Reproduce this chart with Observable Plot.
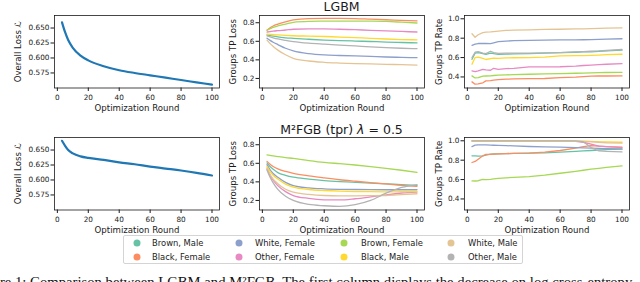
<!DOCTYPE html>
<html><head><meta charset="utf-8">
<script src="https://cdn.jsdelivr.net/npm/d3@7"></script>
<script src="https://cdn.jsdelivr.net/npm/@observablehq/plot@0.6"></script>
<style>
html,body{margin:0;padding:0;background:#fff;}
#root{position:relative;width:640px;height:282px;overflow:hidden;font-family:"DejaVu Sans",sans-serif;color:#1a1a1a;}
.title{position:absolute;font-size:12.5px;white-space:nowrap;transform:translate(-50%,-50%);}
#legend{position:absolute;left:123px;top:235px;width:400px;height:29px;border:1px solid #d4d4d4;border-radius:2px;box-sizing:border-box;background:#fff;}
.li{position:absolute;font-size:8.4px;white-space:nowrap;transform:translateY(-50%);line-height:1;}
.dot{position:absolute;width:7px;height:7px;border-radius:50%;transform:translate(-50%,-50%);}
#caption{position:absolute;left:-27px;top:275px;font-family:"Liberation Serif",serif;font-size:14.7px;line-height:1;white-space:nowrap;color:#111;}
</style></head>
<body><div id="root"></div>
<script>
// ---------- data ----------
const groups = ["Brown, Male", "Black, Female", "White, Female", "Other, Female", "Brown, Female", "Black, Male", "White, Male", "Other, Male"];
const groupColors = ["#66c2a5", "#fc8d62", "#8da0cb", "#e78ac3", "#a6d854", "#ffd92f", "#e5c494", "#b3b3b3"];

const lossRounds = [3, 5, 7, 10, 15, 20, 30, 40, 50, 60, 70, 80, 90, 100];
const rateRounds = [3, 5, 7, 10, 12, 15, 17, 20, 25, 30, 40, 50, 60, 70, 75, 80, 85, 90, 100];
const xTicks = [0, 20, 40, 60, 80, 100];

const lgbmOverallLoss  = [0.6595, 0.643, 0.630, 0.617, 0.604, 0.596, 0.5863, 0.5796, 0.575, 0.5711, 0.5672, 0.5632, 0.5593, 0.5554];
const m2fgbOverallLoss = [0.6654, 0.657, 0.650, 0.6444, 0.6394, 0.6368, 0.6335, 0.6295, 0.6262, 0.6224, 0.6191, 0.6158, 0.612, 0.6075];

// group order as in `groups`
const lgbmGroupLoss = [
  [0.670, 0.662, 0.655, 0.647, 0.638, 0.632, 0.622, 0.613, 0.607, 0.603, 0.598, 0.592, 0.587, 0.583],
  [0.720, 0.745, 0.765, 0.785, 0.810, 0.830, 0.845, 0.847, 0.847, 0.845, 0.838, 0.832, 0.826, 0.820],
  [0.634, 0.610, 0.590, 0.565, 0.525, 0.497, 0.467, 0.453, 0.447, 0.442, 0.437, 0.431, 0.427, 0.424],
  [0.700, 0.705, 0.710, 0.715, 0.722, 0.730, 0.735, 0.735, 0.730, 0.725, 0.718, 0.712, 0.706, 0.700],
  [0.720, 0.735, 0.750, 0.765, 0.785, 0.805, 0.815, 0.817, 0.818, 0.818, 0.817, 0.814, 0.806, 0.797],
  [0.677, 0.675, 0.672, 0.669, 0.664, 0.660, 0.656, 0.652, 0.646, 0.640, 0.632, 0.625, 0.619, 0.616],
  [0.612, 0.575, 0.545, 0.505, 0.455, 0.417, 0.388, 0.374, 0.366, 0.360, 0.356, 0.352, 0.348, 0.344],
  [0.659, 0.648, 0.638, 0.625, 0.610, 0.597, 0.580, 0.569, 0.559, 0.550, 0.540, 0.532, 0.525, 0.521]
];
const m2fgbGroupLoss = [
  [0.604, 0.565, 0.535, 0.500, 0.470, 0.450, 0.430, 0.414, 0.403, 0.395, 0.387, 0.379, 0.370, 0.362],
  [0.621, 0.590, 0.565, 0.540, 0.512, 0.492, 0.465, 0.443, 0.423, 0.407, 0.392, 0.379, 0.362, 0.352],
  [0.586, 0.530, 0.490, 0.450, 0.395, 0.360, 0.335, 0.325, 0.320, 0.318, 0.316, 0.315, 0.315, 0.315],
  [0.540, 0.470, 0.420, 0.360, 0.295, 0.253, 0.222, 0.207, 0.205, 0.218, 0.238, 0.260, 0.280, 0.290],
  [0.690, 0.685, 0.680, 0.673, 0.662, 0.653, 0.630, 0.610, 0.596, 0.582, 0.565, 0.546, 0.525, 0.503],
  [0.567, 0.510, 0.470, 0.430, 0.375, 0.343, 0.318, 0.307, 0.300, 0.296, 0.294, 0.293, 0.294, 0.296],
  [0.550, 0.480, 0.430, 0.380, 0.320, 0.289, 0.265, 0.253, 0.250, 0.250, 0.251, 0.253, 0.262, 0.272],
  [0.529, 0.450, 0.390, 0.320, 0.245, 0.200, 0.157, 0.143, 0.136, 0.154, 0.200, 0.278, 0.340, 0.371]
];
const lgbmGroupTPR = [
  [0.582, 0.645, 0.652, 0.640, 0.633, 0.645, 0.640, 0.633, 0.636, 0.638, 0.640, 0.645, 0.650, 0.655, 0.658, 0.660, 0.664, 0.668, 0.677],
  [0.349, 0.325, 0.328, 0.340, 0.360, 0.362, 0.368, 0.373, 0.377, 0.380, 0.383, 0.384, 0.394, 0.398, 0.403, 0.408, 0.410, 0.410, 0.411],
  [0.726, 0.738, 0.745, 0.747, 0.745, 0.743, 0.752, 0.764, 0.770, 0.774, 0.778, 0.780, 0.782, 0.783, 0.784, 0.785, 0.787, 0.790, 0.794],
  [0.462, 0.455, 0.462, 0.479, 0.472, 0.469, 0.489, 0.479, 0.485, 0.489, 0.503, 0.503, 0.505, 0.512, 0.518, 0.523, 0.527, 0.531, 0.537],
  [0.411, 0.390, 0.392, 0.408, 0.410, 0.412, 0.415, 0.418, 0.421, 0.424, 0.428, 0.432, 0.435, 0.438, 0.440, 0.442, 0.444, 0.446, 0.448],
  [0.531, 0.600, 0.605, 0.592, 0.580, 0.590, 0.595, 0.592, 0.596, 0.598, 0.600, 0.605, 0.617, 0.620, 0.621, 0.623, 0.626, 0.630, 0.634],
  [0.846, 0.810, 0.835, 0.858, 0.862, 0.865, 0.868, 0.873, 0.880, 0.883, 0.886, 0.890, 0.892, 0.895, 0.897, 0.899, 0.901, 0.903, 0.907],
  [0.600, 0.655, 0.662, 0.645, 0.640, 0.665, 0.652, 0.643, 0.645, 0.645, 0.645, 0.648, 0.652, 0.658, 0.662, 0.665, 0.668, 0.673, 0.684]
];
const m2fgbGroupTPR = [
  [0.845, 0.845, 0.842, 0.845, 0.852, 0.862, 0.864, 0.866, 0.868, 0.870, 0.872, 0.876, 0.883, 0.890, 0.895, 0.900, 0.905, 0.908, 0.914],
  [0.776, 0.787, 0.810, 0.845, 0.860, 0.860, 0.862, 0.866, 0.868, 0.870, 0.872, 0.883, 0.900, 0.925, 0.940, 0.950, 0.945, 0.940, 0.935],
  [0.940, 0.955, 0.958, 0.958, 0.957, 0.955, 0.954, 0.952, 0.950, 0.947, 0.941, 0.937, 0.934, 0.930, 0.927, 0.924, 0.922, 0.920, 0.917],
  [1.000, 1.000, 1.000, 1.000, 1.000, 1.000, 1.000, 1.000, 1.000, 1.000, 1.000, 1.000, 1.000, 0.995, 0.985, 0.965, 0.945, 0.940, 0.930],
  [0.586, 0.585, 0.588, 0.603, 0.600, 0.603, 0.607, 0.613, 0.618, 0.622, 0.630, 0.645, 0.665, 0.685, 0.696, 0.707, 0.716, 0.725, 0.741],
  [0.998, 0.998, 0.998, 0.998, 0.998, 0.998, 0.998, 0.998, 0.998, 0.998, 0.998, 0.998, 0.998, 0.997, 0.996, 0.995, 0.990, 0.988, 0.985],
  [0.997, 0.997, 0.997, 0.997, 0.997, 0.997, 0.997, 0.997, 0.997, 0.997, 0.997, 0.997, 0.996, 0.995, 0.993, 0.990, 0.985, 0.980, 0.975],
  [1.000, 1.000, 1.000, 1.000, 1.000, 1.000, 1.000, 1.000, 1.000, 1.000, 1.000, 1.000, 1.000, 1.000, 0.990, 0.930, 0.895, 0.890, 0.885]
];

const overallTicks = [0.575, 0.600, 0.625, 0.650];
const lossTicks = [0.2, 0.4, 0.6, 0.8];
const rateTicks = [0.4, 0.6, 0.8, 1.0];

const titles = ["LGBM", "M²FGB (tpr) "];
const xLabel = "Optimization Round";
const yLabels = ["Overall Loss ℒ", "Groups TP Loss", "Groups TP Rate"];
const captionText = "Figure 1: Comparison between LGBM and M²FGB. The first column displays the decrease on log cross-entropy";

// ---------- helpers ----------
const root = document.getElementById("root");
const FW = 165, FH = 72.5;
const M = {l: 50, r: 6, t: 5, b: 30};
const colLeft = [54, 259, 464];
const rowTop = [14.5, 137];
const yLabelDx = [-36, -26, -25];

function single(xs, vals) { return xs.map((r, i) => ({round: r, value: vals[i]})); }
function long(xs, list) { return list.flatMap((vals, g) => vals.map((v, i) => ({round: xs[i], value: v, group: groups[g]}))); }

function panel(row, col, {yDomain, yTicks, yFormat, marks}) {
  const svg = Plot.plot({
    width: M.l + FW + M.r, height: M.t + FH + M.b,
    marginLeft: M.l, marginRight: M.r, marginTop: M.t, marginBottom: M.b,
    style: {background: "transparent", fontFamily: "'DejaVu Sans', sans-serif", fontSize: "7.3px", color: "#1a1a1a", overflow: "visible"},
    x: {domain: [-1.85, 104.85]},
    y: {domain: yDomain},
    color: {domain: groups, range: groupColors},
    marks: [
      ...marks,
      Plot.frame({stroke: "#1a1a1a", strokeWidth: 0.8}),
      Plot.axisX({ticks: xTicks, tickSize: 3.5, tickPadding: 3, tickFormat: "d", label: null}),
      Plot.axisY({ticks: yTicks, tickSize: 3.5, tickPadding: 1.5, tickFormat: yFormat, label: null}),
      Plot.text([xLabel], {frameAnchor: "bottom", dy: 20, fontSize: 8.6, textAnchor: "middle", lineAnchor: "middle"}),
      Plot.text([yLabels[col]], {frameAnchor: "left", dx: yLabelDx[col], rotate: -90, fontSize: 8.6, textAnchor: "middle", lineAnchor: "middle"})
    ]
  });
  svg.style.position = "absolute";
  svg.style.left = (colLeft[col] - M.l) + "px";
  svg.style.top = (rowTop[row] - M.t) + "px";
  root.appendChild(svg);
}

const overallDomain = [0.5499, 0.6709];
const lossDomain = [0.097, 0.878];
const rateDomain = [0.286, 1.034];

// Row 1: LGBM
panel(0, 0, {yDomain: overallDomain, yTicks: overallTicks, yFormat: ".3f",
  marks: [Plot.line(single(lossRounds, lgbmOverallLoss), {x: "round", y: "value", stroke: "#1f77b4", strokeWidth: 2.2, curve: "monotone-x"})]});
panel(0, 1, {yDomain: lossDomain, yTicks: lossTicks, yFormat: ".1f",
  marks: [Plot.line(long(lossRounds, lgbmGroupLoss), {x: "round", y: "value", z: "group", stroke: "group", strokeWidth: 1.3, curve: "monotone-x"})]});
panel(0, 2, {yDomain: rateDomain, yTicks: rateTicks, yFormat: ".1f",
  marks: [Plot.line(long(rateRounds, lgbmGroupTPR), {x: "round", y: "value", z: "group", stroke: "group", strokeWidth: 1.3})]});
// Row 2: M²FGB
panel(1, 0, {yDomain: overallDomain, yTicks: overallTicks, yFormat: ".3f",
  marks: [Plot.line(single(lossRounds, m2fgbOverallLoss), {x: "round", y: "value", stroke: "#1f77b4", strokeWidth: 2.2, curve: "monotone-x"})]});
panel(1, 1, {yDomain: lossDomain, yTicks: lossTicks, yFormat: ".1f",
  marks: [Plot.line(long(lossRounds, m2fgbGroupLoss), {x: "round", y: "value", z: "group", stroke: "group", strokeWidth: 1.3, curve: "monotone-x"})]});
panel(1, 2, {yDomain: rateDomain, yTicks: rateTicks, yFormat: ".1f",
  marks: [Plot.line(long(rateRounds, m2fgbGroupTPR), {x: "round", y: "value", z: "group", stroke: "group", strokeWidth: 1.3})]});

// titles
const t1 = document.createElement("div");
t1.className = "title"; t1.style.left = "341.5px"; t1.style.top = "6px";
t1.textContent = titles[0];
root.appendChild(t1);
const t2 = document.createElement("div");
t2.className = "title"; t2.style.left = "341.5px"; t2.style.top = "128.5px";
t2.innerHTML = titles[1] + '<span style="font-style:italic">λ</span> = 0.5';
root.appendChild(t2);

// legend
const legend = document.createElement("div");
legend.id = "legend";
const dotX = [13, 115, 220, 327], textX = [28, 131, 237, 344], rowY = [7, 21];
groups.forEach((g, i) => {
  const c = Math.floor(i / 2), r = i % 2;
  const d = document.createElement("div");
  d.className = "dot"; d.style.left = dotX[c] + "px"; d.style.top = rowY[r] + "px"; d.style.background = groupColors[i];
  legend.appendChild(d);
  const t = document.createElement("div");
  t.className = "li"; t.style.left = textX[c] + "px"; t.style.top = rowY[r] + "px"; t.textContent = g;
  legend.appendChild(t);
});
root.appendChild(legend);

// caption
const cap = document.createElement("div");
cap.id = "caption"; cap.textContent = captionText;
root.appendChild(cap);
</script>
</body></html>
